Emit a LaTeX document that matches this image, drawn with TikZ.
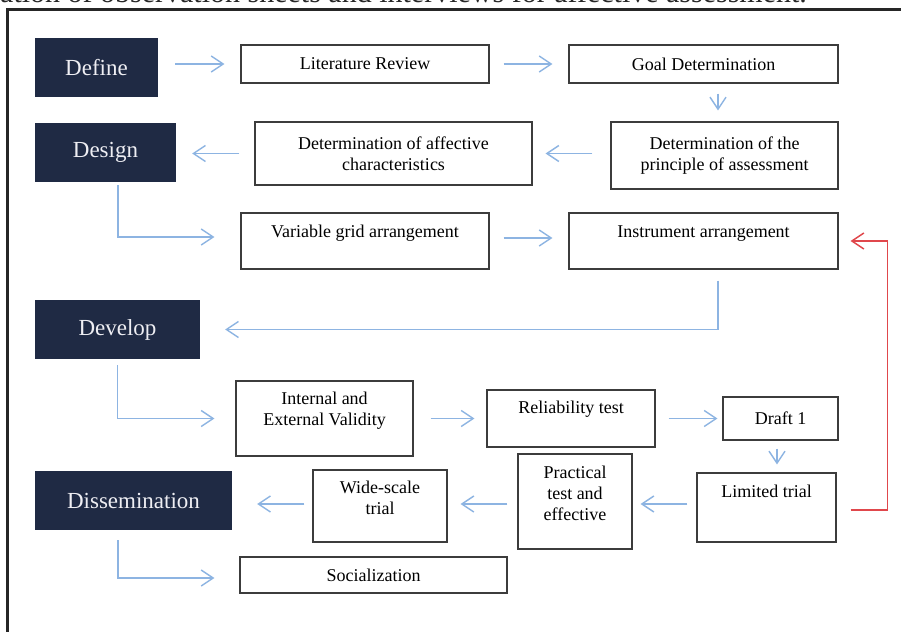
\documentclass[tikz,border=0pt]{standalone}
\usepackage{fontspec}
\setmainfont{Liberation Serif}
\usepackage{tikz}
\usetikzlibrary{arrows.meta}
\definecolor{stagebg}{HTML}{1F2A44}
\definecolor{stagetext}{HTML}{EEEEF3}
\definecolor{boxline}{HTML}{3C3C3C}
\definecolor{flowblue}{HTML}{8DB4E2}
\definecolor{loopred}{HTML}{E0474C}
\definecolor{framegray}{HTML}{262626}
\begin{document}
\begin{tikzpicture}[x=1pt, y=-1pt, stage/.style={fill=stagebg, text=stagetext, font=\fontsize{23}{26}\selectfont, minimum height=59pt, inner sep=0pt}, box/.style={draw=boxline, line width=1.2pt, font=\fontsize{18}{21}\selectfont, align=center, inner sep=0pt}, flow/.style={draw=flowblue, line width=1.4pt, -{Straight Barb[length=12pt, width=16pt]}}, loopback/.style={draw=loopred, line width=1.4pt, -{Straight Barb[length=12pt, width=16pt]}}]
\useasboundingbox (0,0) rectangle (901,631);
\fill[white] (0,0) rectangle (901,631);
\begin{scope}
\clip (0,0) rectangle (901,631);
\draw[framegray, line width=3pt] (7,10) rectangle (960,680);
\node[anchor=base west, inner sep=0pt, text=framegray, font=\fontsize{30}{33}\selectfont] (caption) at (0,2.5) {ation of observation sheets and interviews for affective assessment.};
\end{scope}
\node[stage, minimum width=123pt] (define) at (96.5,67.5) {Define};
\node[stage, minimum width=141pt] (design) at (105.5,152.5) {Design};
\node[stage, minimum width=165pt] (develop) at (117.5,329.5) {Develop};
\node[stage, minimum width=197pt] (dissemination) at (133.5,500.5) {Dissemination};
\node[box, minimum width=248pt, minimum height=38pt] (litreview) at (365,64) {Literature Review};
\node[box, minimum width=269pt, minimum height=38pt] (goal) at (703.5,64) {Goal Determination};
\node[box, minimum width=277pt, minimum height=63pt] (affective) at (393.5,153.5) {Determination of affective\\characteristics};
\node[box, minimum width=227pt, minimum height=67pt] (principle) at (724.5,155.5) {Determination of the\\principle of assessment};
\node[box, minimum width=248pt, minimum height=56pt, text depth=20pt] (vargrid) at (365,241) {Variable grid arrangement};
\node[box, minimum width=269pt, minimum height=56pt, text depth=18pt] (instrument) at (703.5,241) {Instrument arrangement};
\node[box, minimum width=177pt, minimum height=75pt, text depth=20pt] (validity) at (324.5,418.5) {Internal and\\External Validity};
\node[box, minimum width=168pt, minimum height=57pt, text depth=23pt] (reliability) at (571,418.5) {Reliability test};
\node[box, minimum width=115pt, minimum height=43pt] (draft) at (780.5,418.5) {Draft 1};
\node[box, minimum width=139pt, minimum height=69pt, text depth=33pt] (limited) at (766.5,507.5) {Limited trial};
\node[box, minimum width=114pt, minimum height=95pt, text depth=17pt] (practical) at (575,501.5) {Practical\\test and\\effective};
\node[box, minimum width=134pt, minimum height=72pt, text depth=16pt] (widescale) at (380,506) {Wide-scale\\trial};
\node[box, minimum width=267pt, minimum height=36pt] (socialization) at (373.5,575) {Socialization};
\draw[flow, shorten <=17pt, shorten >=16pt] (define.east |- litreview.west) -- (litreview.west);
\draw[flow, shorten <=14pt, shorten >=16pt] (litreview) -- (goal);
\draw[flow, shorten <=10pt, shorten >=11pt] ([xshift=14.5pt]goal.south) -- ([xshift=-6.5pt]principle.north);
\draw[flow, shorten <=18pt, shorten >=13pt] (principle.west |- affective.east) -- (affective.east);
\draw[flow, shorten <=15pt, shorten >=16pt] (affective.west) -- (design.east |- affective.west);
\draw[flow, shorten <=3pt, shorten >=26pt] ([xshift=12.5pt]design.south) |- ([yshift=4pt]vargrid.west);
\draw[flow, shorten <=14pt, shorten >=16pt] ([yshift=3pt]vargrid.east) -- ([yshift=3pt]instrument.west);
\draw[flow, shorten <=11pt, shorten >=25pt] ([xshift=14.5pt]instrument.south) |- (develop.east);
\draw[flow, shorten <=6pt, shorten >=21pt] (develop.south) |- (validity.west);
\draw[flow, shorten <=17pt, shorten >=12pt] (validity) -- (reliability);
\draw[flow, shorten <=13pt, shorten >=5pt] (reliability) -- (draft);
\draw[flow, shorten <=8pt, shorten >=8pt] ([xshift=-3.5pt]draft.south) -- ([xshift=10.5pt]limited.north);
\draw[flow, shorten <=9pt, shorten >=8pt] ([yshift=3.5pt]limited.west) -- ([yshift=-2.5pt]practical.east);
\draw[flow, shorten <=10pt, shorten >=13pt] ([yshift=-2.5pt]practical.west) -- ([yshift=2pt]widescale.east);
\draw[flow, shorten <=8pt, shorten >=25pt] ([yshift=2pt]widescale.west) -- ([yshift=-3.5pt]dissemination.east);
\draw[flow, shorten <=10pt, shorten >=25pt] ([xshift=-15.5pt]dissemination.south) |- ([yshift=-3pt]socialization.west);
\draw[loopback, shorten <=14pt, shorten >=12pt] ([yshift=-2.5pt]limited.east) -- ++(51,0) |- (instrument.east);
\end{tikzpicture}
\end{document}
